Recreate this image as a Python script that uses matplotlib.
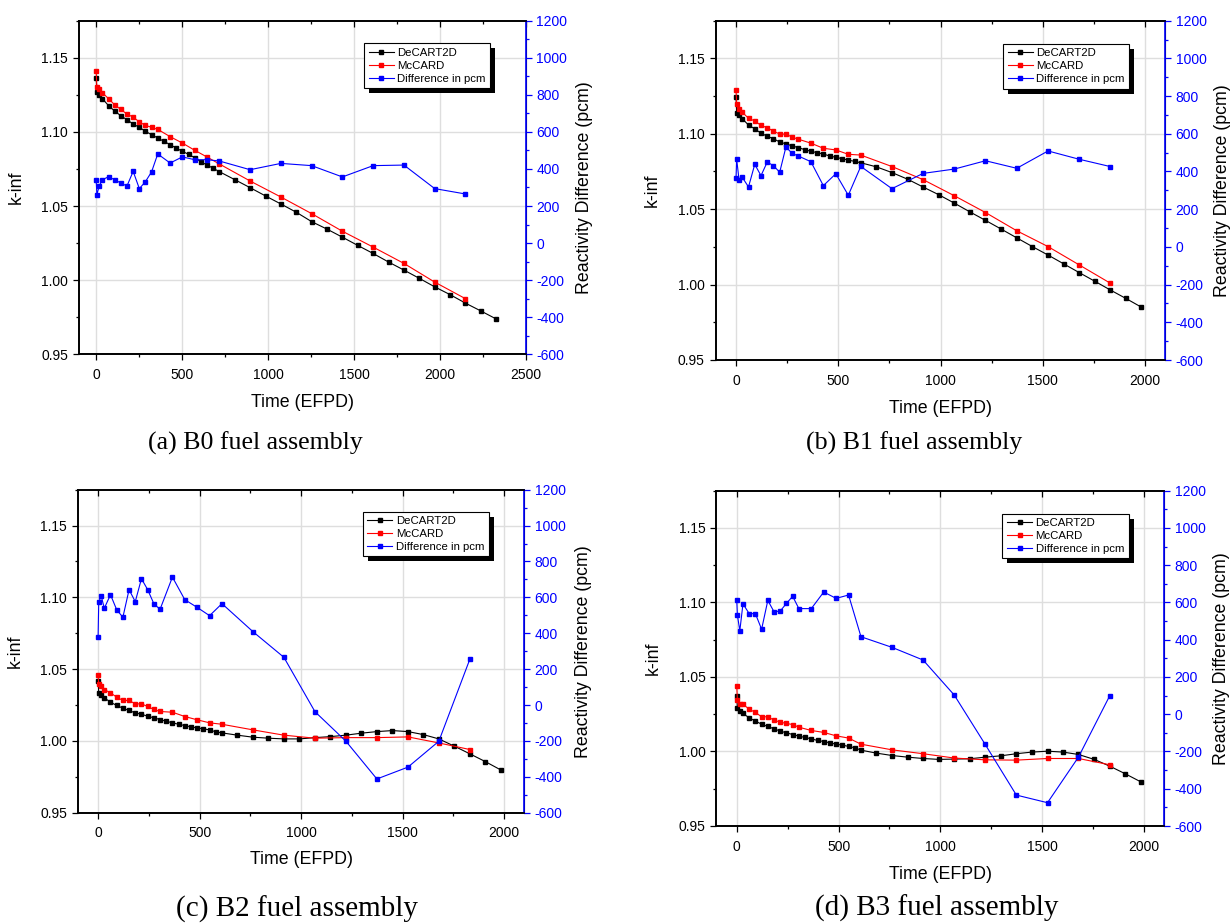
import matplotlib
matplotlib.use("Agg")
import matplotlib.pyplot as plt
from matplotlib.ticker import MultipleLocator, FormatStrFormatter
from matplotlib.patches import Rectangle
from matplotlib.transforms import IdentityTransform

plt.rcParams['font.family'] = ['Liberation Sans', 'DejaVu Sans']
plt.rcParams['axes.unicode_minus'] = False

# burnup steps in EFPD
days_b0_decart = [0, 4, 18, 36, 72, 107, 143, 179, 215, 251, 286, 322, 358, 394, 430, 465, 501, 537,
                  573, 609, 644, 680, 716, 806, 895, 985, 1074, 1164, 1253, 1343, 1432, 1522, 1611,
                  1701, 1790, 1880, 1969, 2059, 2148, 2238, 2327]
days_b0_mccard = [0, 4, 18, 36, 72, 107, 143, 179, 215, 251, 286, 322, 358, 430, 501, 573, 644, 716,
                  895, 1074, 1253, 1432, 1611, 1790, 1969, 2148]
days_decart = [0, 3, 15, 30.5, 61, 91.5, 122, 152.5, 183, 213.5, 244, 274.5, 305, 335.5, 366, 396.5,
               427, 457.5, 488, 518.5, 549, 579.5, 610, 686, 762.5, 839, 915, 991.5, 1068, 1144, 1220,
               1297, 1373, 1449.5, 1526, 1602, 1678, 1755, 1831, 1907, 1983]
days_mccard = [0, 3, 15, 30.5, 61, 91.5, 122, 152.5, 183, 213.5, 244, 274.5, 305, 366, 427, 488, 549,
               610, 762.5, 915, 1068, 1220, 1373, 1526, 1678, 1831]

# (a) B0
b0_decart = [1.1361, 1.1269, 1.1246, 1.1224, 1.1177, 1.1141, 1.1109, 1.1082, 1.1053, 1.1031, 1.1004,
             1.0981, 1.0959, 1.0936, 1.0914, 1.0891, 1.0869, 1.0849, 1.0826, 1.0799, 1.0777, 1.0755,
             1.0732, 1.0678, 1.0624, 1.0568, 1.0514, 1.0458, 1.0395, 1.0344, 1.0290, 1.0234, 1.0180,
             1.0122, 1.0068, 1.0012, 0.9955, 0.9902, 0.9845, 0.9792, 0.9738]
b0_mccard = [1.1408, 1.1302, 1.1287, 1.1264, 1.1224, 1.1183, 1.1152, 1.1120, 1.1100, 1.1067, 1.1044,
             1.1031, 1.1017, 1.0968, 1.0925, 1.0876, 1.0831, 1.0784, 1.0669, 1.0561, 1.0449, 1.0330,
             1.0223, 1.0113, 0.9987, 0.9875]
b0_diff = [339, 261, 310, 342, 358, 342, 324, 308, 387, 294, 331, 384, 481, 432, 465, 450, 450, 443,
           396, 430, 418, 357, 418, 421, 294, 265]

# (b) B1
b1_decart = [1.1241, 1.1141, 1.1127, 1.1100, 1.1058, 1.1033, 1.1004, 1.0984, 1.0967, 1.0946, 1.0933,
             1.0920, 1.0908, 1.0895, 1.0884, 1.0875, 1.0866, 1.0853, 1.0844, 1.0835, 1.0826, 1.0817,
             1.0808, 1.0781, 1.0743, 1.0699, 1.0647, 1.0596, 1.0540, 1.0482, 1.0426, 1.0368, 1.0310,
             1.0252, 1.0196, 1.0138, 1.0080, 1.0022, 0.9964, 0.9908, 0.9850]
b1_mccard = [1.1290, 1.1196, 1.1165, 1.1143, 1.1103, 1.1085, 1.1056, 1.1040, 1.1018, 1.0998, 1.0998,
             1.0978, 1.0964, 1.0938, 1.0904, 1.0893, 1.0864, 1.0859, 1.0783, 1.0696, 1.0589, 1.0478,
             1.0357, 1.0252, 1.0131, 1.0009]
b1_diff = [367, 465, 353, 369, 318, 438, 378, 450, 431, 396, 530, 496, 482, 452, 325, 388, 274, 427,
           309, 390, 413, 457, 417, 509, 465, 426]

# (c) B2
b2_decart = [1.0419, 1.0335, 1.0321, 1.0300, 1.0270, 1.0247, 1.0228, 1.0212, 1.0195, 1.0186, 1.0172,
             1.0161, 1.0149, 1.0137, 1.0126, 1.0116, 1.0107, 1.0098, 1.0091, 1.0084, 1.0077, 1.0063,
             1.0056, 1.0040, 1.0026, 1.0019, 1.0014, 1.0014, 1.0023, 1.0030, 1.0040, 1.0054, 1.0065,
             1.0072, 1.0065, 1.0044, 1.0014, 0.9963, 0.9910, 0.9856, 0.9798]
b2_mccard = [1.0458, 1.0395, 1.0381, 1.0358, 1.0335, 1.0305, 1.0282, 1.0282, 1.0258, 1.0258, 1.0240,
             1.0219, 1.0205, 1.0200, 1.0170, 1.0147, 1.0126, 1.0116, 1.0077, 1.0040, 1.0019, 1.0023,
             1.0023, 1.0028, 0.9986, 0.9940]
b2_diff = [379, 572, 609, 539, 615, 531, 489, 643, 576, 704, 643, 565, 533, 713, 587, 544, 498, 565,
           409, 266, -37, -201, -412, -346, -202, 256]

# (d) B3
b3_decart = [1.0371, 1.0291, 1.0275, 1.0255, 1.0226, 1.0204, 1.0183, 1.0168, 1.0152, 1.0137, 1.0125,
             1.0114, 1.0103, 1.0094, 1.0085, 1.0074, 1.0067, 1.0058, 1.0049, 1.0043, 1.0034, 1.0025,
             1.0009, 0.9989, 0.9973, 0.9962, 0.9953, 0.9947, 0.9949, 0.9951, 0.9962, 0.9971, 0.9985,
             0.9996, 1.0002, 0.9996, 0.9980, 0.9947, 0.9902, 0.9851, 0.9797]
b3_mccard = [1.0438, 1.0347, 1.0322, 1.0317, 1.0284, 1.0262, 1.0233, 1.0233, 1.0210, 1.0197, 1.0188,
             1.0181, 1.0163, 1.0141, 1.0128, 1.0105, 1.0090, 1.0049, 1.0011, 0.9985, 0.9956, 0.9944,
             0.9942, 0.9953, 0.9953, 0.9911]
b3_diff = [611, 533, 448, 593, 540, 540, 456, 611, 550, 554, 595, 633, 567, 567, 656, 622, 640, 416,
           359, 291, 103, -162, -434, -475, -230, 98]

captions = ["(a) B0 fuel assembly", "(b) B1 fuel assembly", "(c) B2 fuel assembly", "(d) B3 fuel assembly"]
labels = ["DeCART2D", "McCARD", "Difference in pcm"]

fig = plt.figure(figsize=(12.32, 9.23), dpi=100)
W, H = 1232.0, 923.0


def px_rect(x0, y0, x1, y1):
    return [x0 / W, 1 - y1 / H, (x1 - x0) / W, (y1 - y0) / H]


panels = [
    (px_rect(79, 20.7, 526, 354.3), days_b0_decart, b0_decart, days_b0_mccard, b0_mccard, b0_diff, 2500,
     (255, 443, 18.6), 1.112),
    (px_rect(715.6, 20.7, 1165.4, 360), days_decart, b1_decart, days_mccard, b1_mccard, b1_diff, 2100,
     (914, 443, 18.6), 1.108),
    (px_rect(77.8, 489.7, 524.5, 812.7), days_decart, b2_decart, days_mccard, b2_mccard, b2_diff, 2100,
     (297, 909, 21), 1.113),
    (px_rect(716.4, 490.7, 1164.4, 826), days_decart, b3_decart, days_mccard, b3_mccard, b3_diff, 2100,
     (937, 908, 21), 1.108),
]

legends = []
for i, (rect, dk, kd, dm, km, diff, xmax, cap, rlab) in enumerate(panels):
    ax = fig.add_axes(rect)
    ax2 = ax.twinx()

    l1, = ax.plot(dk, kd, color='black', lw=0.8, marker='s', ms=3.5, label=labels[0])
    l2, = ax.plot(dm, km, color='red', lw=0.8, marker='s', ms=3.5, label=labels[1])
    l3, = ax2.plot(dm, diff, color='blue', lw=0.8, marker='s', ms=3.5, label=labels[2])

    ax.set_xlim(-100, xmax)
    ax.set_ylim(0.95, 1.175)
    ax2.set_ylim(-600, 1200)

    ax.xaxis.set_major_locator(MultipleLocator(500))
    ax.xaxis.set_minor_locator(MultipleLocator(250))
    ax.yaxis.set_major_locator(MultipleLocator(0.05))
    ax.yaxis.set_minor_locator(MultipleLocator(0.025))
    ax.yaxis.set_major_formatter(FormatStrFormatter('%.2f'))
    ax2.yaxis.set_major_locator(MultipleLocator(200))
    ax2.yaxis.set_minor_locator(MultipleLocator(100))

    ax.grid(True, which='major', color='#dedede', lw=1.0)
    ax.set_axisbelow(True)

    ax.tick_params(axis='both', which='major', direction='out', length=4.3, width=0.9, labelsize=10)
    ax.tick_params(axis='x', which='major', pad=5.5)
    ax.tick_params(axis='both', which='minor', direction='out', length=2.4, width=0.9)
    ax2.tick_params(axis='y', which='major', direction='out', length=4.3, width=0.9, labelsize=10,
                    colors='blue', pad=3)
    ax2.tick_params(axis='y', which='minor', direction='out', length=2.4, width=0.9, colors='blue')

    # mirrored ticks along the top, pointing in
    ax2.xaxis.set_visible(True)
    ax2.xaxis.tick_top()
    ax2.tick_params(axis='x', which='major', direction='in', length=4.3, width=0.9, labeltop=False)
    ax2.tick_params(axis='x', which='minor', direction='in', length=2.4, width=0.9, labeltop=False)

    for s in ['left', 'bottom', 'top']:
        ax2.spines[s].set_linewidth(1.2)
        ax.spines[s].set_linewidth(1.2)
    ax2.spines['right'].set_color('blue')
    ax2.spines['right'].set_linewidth(1.2)

    ax.set_xlabel('Time (EFPD)', fontsize=12.8)
    ax.set_ylabel('k-inf', fontsize=12.8)
    ax2.set_ylabel('Reactivity Difference (pcm)', fontsize=12.8)
    ax.xaxis.set_label_coords(0.5, -0.119)
    ax.yaxis.set_label_coords(-0.122, 0.5)
    ax2.yaxis.set_label_coords(rlab, 0.5)

    leg = ax2.legend([l1, l2, l3], labels, loc='upper right', bbox_to_anchor=(0.92, 0.932),
                     borderaxespad=0, fontsize=8.2, labelspacing=0.25, handlelength=2.2,
                     handletextpad=0.3, borderpad=0.4, fancybox=False, framealpha=1,
                     edgecolor='black')
    leg.get_frame().set_linewidth(0.8)
    legends.append((ax2, leg))

    fig.text(cap[0] / W, 1 - cap[1] / H, captions[i], ha='center', va='center',
             fontsize=cap[2], family='Liberation Serif')

# black drop shadow behind each legend box
fig.canvas.draw()
for ax2, leg in legends:
    bb = leg.get_frame().get_window_extent()
    sh = Rectangle((bb.x0 + 5, bb.y0 - 5), bb.width, bb.height, transform=IdentityTransform(),
                   facecolor='black', edgecolor='none', zorder=4.9, clip_on=False)
    ax2.add_artist(sh)

fig.savefig("out.png", dpi=100)
